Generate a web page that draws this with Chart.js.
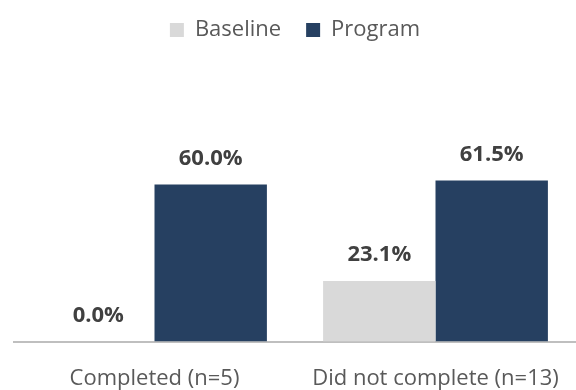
<!DOCTYPE html>
<html>
<head>
<meta charset="utf-8">
<script src="https://cdn.jsdelivr.net/npm/chart.js@4"></script>
<style>
    html, body { margin: 0; padding: 0; background: #fff; }
    #wrap { width: 576px; height: 390px; }
</style>
</head>
<body>
<div id="wrap"><canvas id="completionChart"></canvas></div>
<script>
// values (percent)
const categories = ['Completed (n=5)', 'Did not complete (n=13)'];
const baselineValues = [0.0, 23.1];
const programValues = [60.0, 61.5];

const fontFamily = "'Open Sans', sans-serif";

// draws the percent label above each bar
const barLabels = {
    id: 'barLabels',
    afterDatasetsDraw(chart) {
        const ctx = chart.ctx;
        ctx.save();
        ctx.font = 'bold 22px ' + fontFamily;
        ctx.fillStyle = '#404040';
        ctx.textAlign = 'center';
        ctx.textBaseline = 'middle';
        chart.data.datasets.forEach((ds, i) => {
            chart.getDatasetMeta(i).data.forEach((bar, j) => {
                ctx.fillText(ds.data[j].toFixed(1) + '%', bar.x, bar.y - 26);
            });
        });
        ctx.restore();
    }
};

new Chart(document.getElementById('completionChart').getContext('2d'), {
    type: 'bar',
    data: {
        labels: categories,
        datasets: [
            { label: 'Baseline', data: baselineValues, backgroundColor: '#d9d9d9' },
            { label: 'Program', data: programValues, backgroundColor: '#264061' }
        ]
    },
    options: {
        responsive: true,
        maintainAspectRatio: false,
        animation: false,
        categoryPercentage: 0.8,
        barPercentage: 1.0,
        layout: { padding: { left: 14, right: 0, top: -6, bottom: -18 } },
        scales: {
            x: {
                grid: { display: false },
                border: { display: true, color: '#bfbfbf', width: 2 },
                ticks: { color: '#595959', font: { family: fontFamily, size: 22 }, padding: 16 }
            },
            y: {
                display: false,
                min: 0,
                max: 111
            }
        },
        plugins: {
            legend: {
                position: 'top',
                labels: {
                    color: '#595959',
                    font: { family: fontFamily, size: 22 },
                    boxWidth: 14,
                    boxHeight: 14,
                    padding: 25
                }
            },
            tooltip: { enabled: false }
        }
    },
    plugins: [barLabels]
});
</script>
</body>
</html>
